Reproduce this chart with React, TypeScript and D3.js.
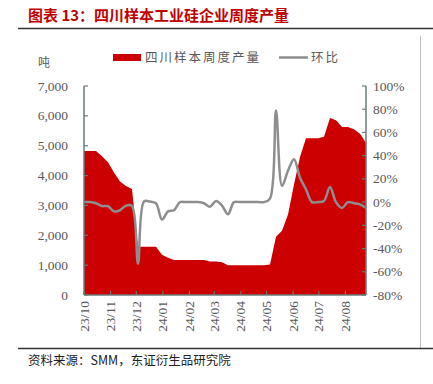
import React from "react";
import * as d3 from "d3";

const startDate = "2023-10-01";
const production = [
  4820, 4820, 4820, 4650, 4450, 4100, 3800, 3650, 3550, 1620,
  1620, 1620, 1620, 1350, 1250, 1170, 1170, 1170, 1170, 1170,
  1170, 1120, 1120, 1100, 1000, 1000, 1000, 1000, 1000, 1000,
  1000, 1020, 1950, 2150, 2700, 3700, 4620, 5250, 5250, 5250,
  5300, 5930, 5850, 5630, 5630, 5550, 5400, 5100,
];
const ringRatio = [
  0, 0, -1, -3.4, -3.5, -8, -7, -3, -3.5, -53,
  0.5, 0.5, -1, -15, -8, -7, 0, 0, 0, 0,
  -1, -4, 1, -3, -10.5, 0, 0, 0, 0, 0,
  0, 3, 79, 14, 27, 37, 21, 11, 0, 0,
  1, 13, 0, -5, 0, -1, -2, -5,
];
const leftTicks = [0, 1000, 2000, 3000, 4000, 5000, 6000, 7000];
const rightTicks = [-80, -60, -40, -20, 0, 20, 40, 60, 80, 100];
const monthTicks = [
  "2023-10-01", "2023-11-01", "2023-12-01", "2024-01-01", "2024-02-01", "2024-03-01",
  "2024-04-01", "2024-05-01", "2024-06-01", "2024-07-01", "2024-08-01",
];

const title = "图表 13：四川样本工业硅企业周度产量";
const legendArea = "四川样本周度产量";
const legendLine = "环比";
const unit = "吨";
const source = "资料来源：SMM，东证衍生品研究院";

const RED = "#CC0000";
const GRAY_LINE = "#8E8E8E";
const AXIS = "#6B7B7B";
const TEXT = "#595959";
const SERIF = "'Liberation Serif', 'Times New Roman', serif";
const CJK = "'Noto Sans CJK SC', sans-serif";

export default function App() {
  const W = 433, H = 384;
  const left = 84, right = 366, top = 86, bottom = 295;

  const parse = d3.utcParse("%Y-%m-%d");
  const d0 = parse(startDate)!;
  const dates = production.map((_, i) => d3.utcDay.offset(d0, i * 7));

  const x = d3.scaleUtc().domain([dates[0], dates[dates.length - 1]]).range([left, right]);
  const yL = d3.scaleLinear().domain([0, 7000]).range([bottom, top]);
  const yR = d3.scaleLinear().domain([-80, 100]).range([bottom, top]);

  const area = d3
    .area<number>()
    .x((_, i) => x(dates[i]))
    .y0(yL(0))
    .y1((d) => yL(d))
    .curve(d3.curveLinear);
  const line = d3
    .line<number>()
    .x((_, i) => x(dates[i]))
    .y((d) => yR(d))
    .curve(d3.curveCatmullRom.alpha(0.5));

  const fmt = d3.format(",");
  const mFmt = d3.utcFormat("%y/%m");

  return (
    <svg width={W} height={H} style={{ position: "absolute", left: 0, top: 0 }}>
      <rect x={0} y={0} width={W} height={H} fill="#fff" />
      <text x={28} y={21} fill="#C00000" fontFamily={CJK} fontSize={15} fontWeight={700}>
        {title}
      </text>
      <line x1={18} x2={433} y1={28.5} y2={28.5} stroke="#333" strokeWidth={1.5} />
      <line x1={420.5} x2={420.5} y1={36} y2={348} stroke="#BFBFBF" strokeWidth={1} />
      <line x1={18} x2={433} y1={348.5} y2={348.5} stroke="#333" strokeWidth={1.5} />
      <text x={28} y={365} fill="#222" fontFamily={CJK} fontSize={12.5}>
        {source}
      </text>

      {/* legend */}
      <rect x={113} y={54} width={28} height={7} fill={RED} />
      <text x={145} y={62} fill={TEXT} fontFamily={CJK} fontSize={12.5} letterSpacing={2}>
        {legendArea}
      </text>
      <line x1={279} x2={308} y1={57.5} y2={57.5} stroke={GRAY_LINE} strokeWidth={2.5} />
      <text x={311} y={62} fill={TEXT} fontFamily={CJK} fontSize={12.5} letterSpacing={2}>
        {legendLine}
      </text>
      <text x={38} y={67} fill={TEXT} fontFamily={CJK} fontSize={12}>
        {unit}
      </text>

      {/* area & line */}
      <path d={area(production) || ""} fill={RED} />
      <path d={line(ringRatio) || ""} fill="none" stroke={GRAY_LINE} strokeWidth={2.5} />

      {/* left axis */}
      <line x1={left} x2={left} y1={top} y2={bottom} stroke={AXIS} strokeWidth={1.5} />
      {leftTicks.map((t) => (
        <g key={"l" + t}>
          <line x1={left} x2={left + 4} y1={yL(t)} y2={yL(t)} stroke={AXIS} strokeWidth={1.2} />
          <text x={68} y={yL(t) + 4.5} textAnchor="end" fill={TEXT} fontFamily={SERIF} fontSize={13.5}>
            {fmt(t)}
          </text>
        </g>
      ))}
      {/* right axis */}
      <line x1={right} x2={right} y1={top} y2={bottom} stroke={AXIS} strokeWidth={1.5} />
      {rightTicks.map((t) => (
        <g key={"r" + t}>
          <line x1={right - 4} x2={right} y1={yR(t)} y2={yR(t)} stroke={AXIS} strokeWidth={1.2} />
          <text x={373} y={yR(t) + 4.5} textAnchor="start" fill={TEXT} fontFamily={SERIF} fontSize={13.5}>
            {t + "%"}
          </text>
        </g>
      ))}
      {/* x axis */}
      <line x1={left} x2={right} y1={bottom} y2={bottom} stroke={AXIS} strokeWidth={1.5} />
      {monthTicks.map((s) => {
        const d = parse(s)!;
        const xx = x(d);
        return (
          <g key={s}>
            <line x1={xx} x2={xx} y1={bottom} y2={bottom - 4} stroke={AXIS} strokeWidth={1.2} />
            <text
              transform={`translate(${xx + 4.5},${bottom + 6}) rotate(-90)`}
              textAnchor="end"
              fill={TEXT}
              fontFamily={SERIF}
              fontSize={13.5}
            >
              {mFmt(d)}
            </text>
          </g>
        );
      })}
    </svg>
  );
}
